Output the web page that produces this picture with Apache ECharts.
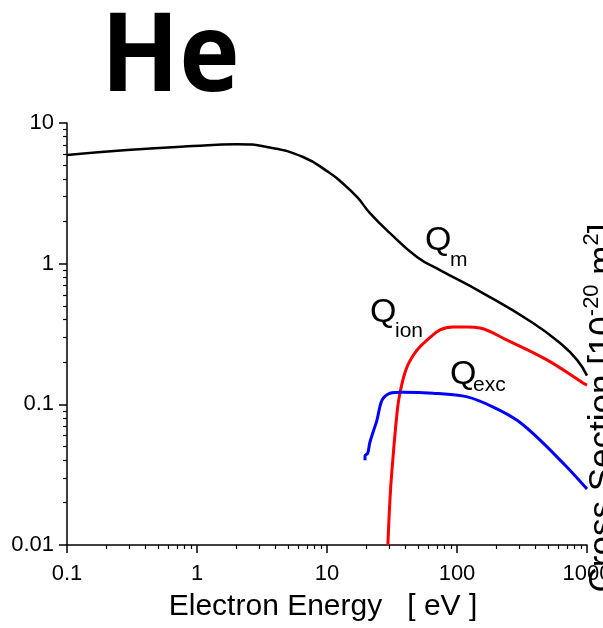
<!DOCTYPE html>
<html>
<head>
<meta charset="utf-8">
<script src="https://cdn.jsdelivr.net/npm/echarts@6/dist/echarts.min.js"></script>
<style>
  html, body { margin: 0; padding: 0; background: #fff; overflow: hidden; }
  #chart { width: 603px; height: 628px; }
</style>
</head>
<body>
<div id="chart"></div>
<script>
// Momentum-transfer, ionization and excitation cross sections of helium
const qmEnergy = [0.1, 0.29, 0.93, 2.03, 3.45, 6.54, 10.5, 12.6, 17.0, 21.4, 30.5, 49.2, 74, 158, 384, 620, 838, 1000];
const qmValue  = [5.92, 6.43, 6.86, 7.06, 6.75, 5.73, 4.41, 3.87, 2.98, 2.29, 1.65, 1.115, 0.90, 0.618, 0.379, 0.273, 0.207, 0.16];

const ionEnergy = [29.4, 30.5, 31.6, 34.5, 36.4, 41.2, 49.2, 58.8, 74, 93.2, 120, 150, 242.5, 492, 931, 1000];
const ionValue  = [0.01, 0.021, 0.034, 0.085, 0.12, 0.184, 0.243, 0.286, 0.338, 0.355, 0.355, 0.349, 0.286, 0.207, 0.142, 0.137];

const excEnergy = [19.6, 19.6, 20.6, 21.3, 22.5, 24.2, 26.5, 30.5, 38.4, 65.3, 120, 190, 290, 436, 700, 1000];
const excValue  = [0.040, 0.043, 0.045, 0.053, 0.0625, 0.077, 0.107, 0.120, 0.122, 0.120, 0.113, 0.0957, 0.077, 0.0557, 0.0358, 0.025];

const xTickLabels = [0.1, 1, 10, 100, 1000];
const yTickLabels = [0.01, 0.1, 1, 10];
// minor ticks at 2..9 of each decade
const xMinorTicks = [0.2,0.3,0.4,0.5,0.6,0.7,0.8,0.9, 2,3,4,5,6,7,8,9, 20,30,40,50,60,70,80,90, 200,300,400,500,600,700,800,900];
const yMinorTicks = [0.02,0.03,0.04,0.05,0.06,0.07,0.08,0.09, 0.2,0.3,0.4,0.5,0.6,0.7,0.8,0.9, 2,3,4,5,6,7,8,9];

const FONT = '"Liberation Sans", Arial, sans-serif';
const pairs = (xs, ys) => xs.map((x, i) => [x, ys[i]]);
const fmt = v => String(Number(Number(v).toPrecision(6)));

const chart = echarts.init(document.getElementById('chart'), null, { renderer: 'canvas', width: 603, height: 628 });

const axisLineStyle = { color: '#000', width: 1.5 };

chart.setOption({
  animation: false,
  backgroundColor: '#fff',
  grid: { left: 67, right: 16, top: 123, bottom: 83, containLabel: false, outerBoundsMode: 'none' },
  xAxis: [
    {
      type: 'log', logBase: 10, min: 0.1, max: 1000, position: 'bottom',
      axisLine: { show: true, onZero: false, lineStyle: axisLineStyle },
      axisTick: { show: true, inside: false, length: 8, lineStyle: { color: '#000', width: 1.5 } },
      axisLabel: {
        show: true, margin: 18, color: '#000', fontFamily: FONT, fontSize: 22,
        customValues: xTickLabels, formatter: fmt, hideOverlap: false
      },
      splitLine: { show: false },
      name: 'Electron Energy   [ eV ]',
      nameLocation: 'middle', nameGap: 47,
      nameTextStyle: { color: '#000', fontFamily: FONT, fontSize: 30, padding: [0, 8, 0, 0] }
    },
    {
      // exponent-space twin axis carrying the minor ticks
      type: 'value', min: -1, max: 3, position: 'bottom',
      axisLine: { show: false, onZero: false },
      axisTick: { show: true, length: 4, lineStyle: { color: '#000', width: 1.2 },
        customValues: xMinorTicks.map(Math.log10) },
      axisLabel: { show: false },
      splitLine: { show: false }
    }
  ],
  yAxis: [
    {
      type: 'log', logBase: 10, min: 0.01, max: 10, position: 'left',
      axisLine: { show: true, onZero: false, lineStyle: axisLineStyle },
      axisTick: { show: true, inside: false, length: 8, lineStyle: { color: '#000', width: 1.5 } },
      axisLabel: {
        show: true, margin: 13, color: '#000', fontFamily: FONT, fontSize: 22,
        customValues: yTickLabels, formatter: fmt
      },
      splitLine: { show: false }
    },
    {
      type: 'value', min: -2, max: 1, position: 'left',
      axisLine: { show: false, onZero: false },
      axisTick: { show: true, length: 4, lineStyle: { color: '#000', width: 1.2 },
        customValues: yMinorTicks.map(Math.log10) },
      axisLabel: { show: false },
      splitLine: { show: false }
    }
  ],
  series: [
    {
      name: 'Qm', type: 'line', xAxisIndex: 0, yAxisIndex: 0,
      data: pairs(qmEnergy, qmValue), showSymbol: false, smooth: 0.5,
      lineStyle: { color: '#000', width: 2.5 }, clip: true
    },
    {
      name: 'Qion', type: 'line', xAxisIndex: 0, yAxisIndex: 0,
      data: pairs(ionEnergy, ionValue), showSymbol: false, smooth: 0.4,
      lineStyle: { color: '#ff0000', width: 3 }, clip: true
    },
    {
      name: 'Qexc', type: 'line', xAxisIndex: 0, yAxisIndex: 0,
      data: pairs(excEnergy, excValue), showSymbol: false, smooth: 0.3,
      lineStyle: { color: '#0000ff', width: 3 }, clip: true
    }
  ],
  graphic: [
    {
      type: 'text', x: 101, y: 60, scaleX: 0.93,
      style: { text: 'He', fill: '#000', font: 'bold 110px "Open Sans", "Liberation Sans", sans-serif',
        textAlign: 'left', textVerticalAlign: 'middle' }
    },
    // curve labels
    { type: 'text', x: 425, y: 241, style: { text: 'Q', fill: '#000', font: '34px ' + FONT, textAlign: 'left', textVerticalAlign: 'middle' } },
    { type: 'text', x: 450, y: 260, style: { text: 'm', fill: '#000', font: '21px ' + FONT, textAlign: 'left', textVerticalAlign: 'middle' } },
    { type: 'text', x: 370, y: 313, style: { text: 'Q', fill: '#000', font: '34px ' + FONT, textAlign: 'left', textVerticalAlign: 'middle' } },
    { type: 'text', x: 395, y: 331, style: { text: 'ion', fill: '#000', font: '21px ' + FONT, textAlign: 'left', textVerticalAlign: 'middle' } },
    { type: 'text', x: 450, y: 375, style: { text: 'Q', fill: '#000', font: '34px ' + FONT, textAlign: 'left', textVerticalAlign: 'middle' } },
    { type: 'text', x: 473, y: 385, style: { text: 'exc', fill: '#000', font: '21px ' + FONT, textAlign: 'left', textVerticalAlign: 'middle' } },
    // right-hand axis title, rotated
    {
      type: 'text', x: 581, y: 408, rotation: Math.PI / 2,
      style: {
        text: '{t|Cross Section [10}{s|-20}{t| m}{s|2}{t|]}',
        textAlign: 'center', textVerticalAlign: 'top',
        rich: {
          t: { fontFamily: FONT, fontSize: 35, fill: '#000', color: '#000', lineHeight: 40, verticalAlign: 'bottom' },
          s: { fontFamily: FONT, fontSize: 22, fill: '#000', color: '#000', lineHeight: 40, verticalAlign: 'top' }
        }
      }
    }
  ]
});
</script>
</body>
</html>
